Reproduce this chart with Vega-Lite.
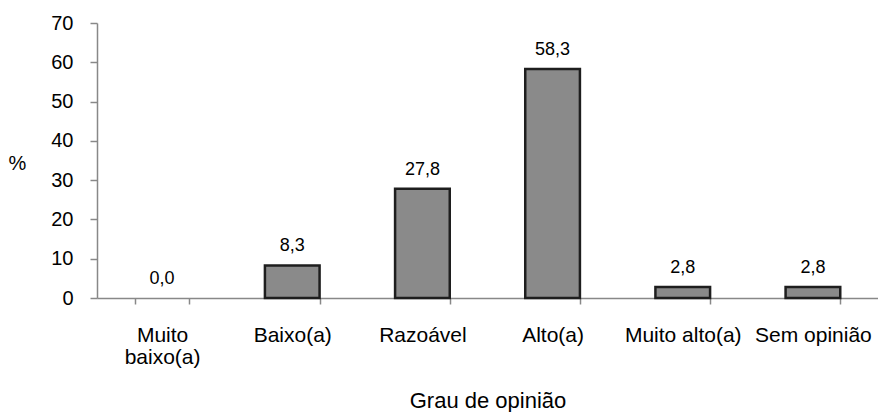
{
  "$schema": "https://vega.github.io/schema/vega-lite/v6.json",
  "autosize": "none",
  "width": 781,
  "height": 275,
  "padding": {"left": 97, "top": 23, "right": 0, "bottom": 114},
  "config": {
    "view": {"stroke": null},
    "font": "Liberation Sans",
    "locale": {"number": {"decimal": ",", "thousands": ".", "grouping": [3], "currency": ["", ""]}},
    "axis": {"domainColor": "#888888", "tickColor": "#888888", "grid": false, "labelColor": "#000000", "titleColor": "#000000", "labelFont": "Liberation Sans", "titleFont": "Liberation Sans", "titleFontWeight": "normal", "domainWidth": 1.5, "tickWidth": 1.5}
  },
  "data": {
    "values": [
      {"grau": "Muito baixo(a)", "pct": 0.0},
      {"grau": "Baixo(a)", "pct": 8.3},
      {"grau": "Razoável", "pct": 27.8},
      {"grau": "Alto(a)", "pct": 58.3},
      {"grau": "Muito alto(a)", "pct": 2.8},
      {"grau": "Sem opinião", "pct": 2.8}
    ]
  },
  "encoding": {
    "x": {
      "field": "grau", "type": "nominal",
      "sort": ["Muito baixo(a)", "Baixo(a)", "Razoável", "Alto(a)", "Muito alto(a)", "Sem opinião"],
      "scale": {"paddingInner": 0.58, "paddingOuter": 0.29},
      "axis": {
        "title": "Grau de opinião", "labelAngle": 0, "tickSize": 6, "labelPadding": 20,
        "labelFontSize": 21, "titleFontSize": 22,
        "titleBaseline": "alphabetic", "titleY": 109,
        "tickBand": "extent",
        "labelExpr": "datum.label == 'Muito baixo(a)' ? ['Muito', 'baixo(a)'] : datum.label",
        "labelLineHeight": 22
      }
    },
    "y": {
      "field": "pct", "type": "quantitative",
      "scale": {"domain": [0, 70]},
      "axis": {"title": "%", "titleAngle": 0, "titleAlign": "center", "titleBaseline": "middle", "titleX": -80, "titleY": 140,
               "labelFontSize": 20, "titleFontSize": 20,
               "values": [0, 10, 20, 30, 40, 50, 60, 70], "tickSize": 7, "labelPadding": 17}
    }
  },
  "layer": [
    {"transform": [{"filter": "datum.pct > 0"}],
     "mark": {"type": "bar", "fill": "#8a8a8a", "stroke": "#1e1e1e", "strokeWidth": 2.5}},
    {"mark": {"type": "text", "baseline": "alphabetic", "dy": -14, "fontSize": 18, "font": "Liberation Sans", "color": "#000000"},
     "encoding": {"text": {"field": "pct", "type": "quantitative", "format": ".1f"}}}
  ]
}
